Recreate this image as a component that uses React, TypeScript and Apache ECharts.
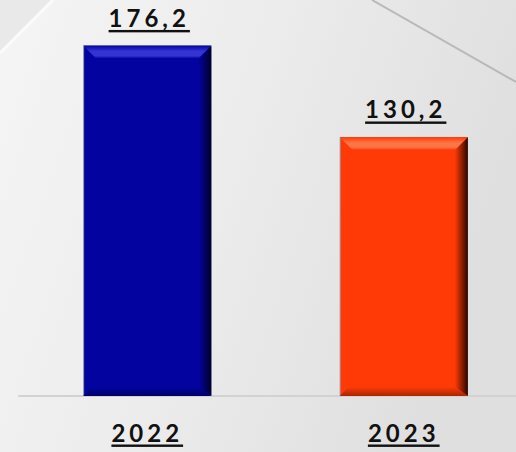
import React, { useEffect, useRef } from "react";
import * as echarts from "echarts";

const categories = ["2022", "2023"];
const values = [176.2, 130.2];
const faceColors = ["#0303a0", "#ff3a06"];
const lightColors = ["#3434d4", "#ff7444"];
const darkColors = ["#00002a", "#2a0500"];
const bottomColors = ["#00006a", "#a82600"];

const FONT = "Lato";

export default function App() {
  const ref = useRef<HTMLDivElement>(null);

  useEffect(() => {
    if (!ref.current) return;
    const chart = echarts.init(ref.current, undefined, { renderer: "svg" });

    const textStyle = {
      fontFamily: FONT,
      fontWeight: "bold" as const,
      fontSize: 24,
      color: "#111111",
    };

    const option: any = {
      animation: false,
      backgroundColor: new echarts.graphic.LinearGradient(0, 0, 1, 0.3, [
        { offset: 0, color: "#f5f5f5" },
        { offset: 0.5, color: "#ececec" },
        { offset: 1, color: "#dfdfdf" },
      ]),
      graphic: [
        {
          type: "polygon",
          z: 0,
          silent: true,
          shape: { points: [[0, 0], [53, 0], [0, 53]] },
          style: { fill: "#e9e9e9" },
        },
        {
          type: "line",
          z: 0,
          silent: true,
          shape: { x1: 0, y1: 53, x2: 53, y2: 0 },
          style: { stroke: "#fbfbfb", lineWidth: 3 },
        },
        {
          type: "line",
          z: 0,
          silent: true,
          shape: { x1: 372, y1: 0, x2: 516, y2: 82 },
          style: { stroke: "#b8b8b8", lineWidth: 2 },
        },
      ],
      grid: {
        left: 19,
        top: 18,
        bottom: 56,
        width: 513,
        outerBoundsMode: "none",
        containLabel: false,
      },
      xAxis: {
        type: "category",
        data: categories,
        axisLine: { lineStyle: { color: "#d2d2d2", width: 2 } },
        axisTick: { show: false },
        axisLabel: { ...textStyle, margin: 24 },
      },
      yAxis: {
        type: "value",
        min: 0,
        max: 190,
        show: false,
        splitLine: { show: false },
      },
      series: [
        {
          type: "bar",
          barWidth: "50%",
          data: values.map((v, i) => ({
            value: v,
            itemStyle: { color: faceColors[i] },
          })),
          itemStyle: { borderColor: "rgba(150,150,175,0.9)", borderWidth: 1 },
          label: {
            show: true,
            position: "top",
            distance: 16,
            offset: [2, 0],
            ...textStyle,
            formatter: (p: any) => String(p.value).replace(".", ","),
          },
          z: 2,
        },
        {
          type: "custom",
          silent: true,
          z: 3,
          data: values.map((v, i) => [i, v]),
          encode: { x: 0, y: 1 },
          renderItem: (params: any, api: any) => {
            const i = params.dataIndex;
            const c = api.value(0);
            const v = api.value(1);
            const top = api.coord([c, v]);
            const base = api.coord([c, 0]);
            const w = api.size([1, 0])[0] * 0.5;
            const l = top[0] - w / 2;
            const r = top[0] + w / 2;
            const t = top[1];
            const b = base[1];
            const s = 13;
            const sb = 9;
            return {
              type: "group",
              children: [
                {
                  type: "polygon",
                  shape: { points: [[r, t], [r, b], [r - s, b - sb], [r - s, t + s]] },
                  style: {
                    fill: new echarts.graphic.LinearGradient(0, 0, 1, 0, [
                      { offset: 0, color: faceColors[i] },
                      { offset: 1, color: darkColors[i] },
                    ]),
                  },
                },
                {
                  type: "polygon",
                  shape: { points: [[l, b], [r, b], [r - s, b - sb], [l + sb, b - sb]] },
                  style: {
                    fill: new echarts.graphic.LinearGradient(0, 0, 0, 1, [
                      { offset: 0, color: faceColors[i] },
                      { offset: 1, color: bottomColors[i] },
                    ]),
                  },
                },
                {
                  type: "polygon",
                  shape: { points: [[l, t], [r, t], [r - s, t + s], [l + s, t + s]] },
                  style: {
                    fill: new echarts.graphic.LinearGradient(0, 0, 0, 1, [
                      { offset: 0, color: faceColors[i] },
                      { offset: 0.45, color: lightColors[i] },
                      { offset: 0.8, color: lightColors[i] },
                      { offset: 1, color: faceColors[i] },
                    ]),
                  },
                },
              ],
            };
          },
        },
      ],
    };

    chart.setOption(option);
    return () => chart.dispose();
  }, []);

  return (
    <>
      <style>{`
        .chart-box svg text {
          letter-spacing: 4px;
          text-decoration: underline;
          text-decoration-thickness: 2px;
          text-underline-offset: 4px;
        }
      `}</style>
      <div
        ref={ref}
        className="chart-box"
        style={{ position: "absolute", left: 0, top: 0, width: 516, height: 452 }}
      />
    </>
  );
}
